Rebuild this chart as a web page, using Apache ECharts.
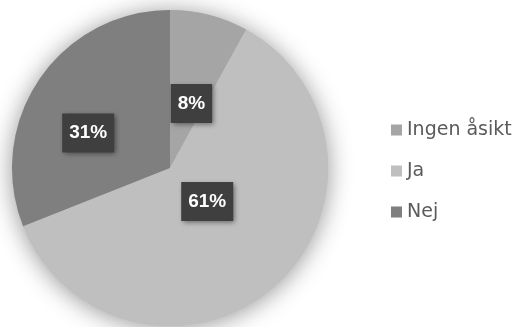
<!DOCTYPE html>
<html>
<head>
<meta charset="utf-8">
<script src="https://cdn.jsdelivr.net/npm/echarts@6/dist/echarts.min.js"></script>
<style>
  html, body { margin: 0; padding: 0; background: #ffffff; }
  #chart { width: 516px; height: 327px; }
</style>
</head>
<body>
<div id="chart"></div>
<script>
// Survey answers, share of respondents
const categories = ['Ingen åsikt', 'Ja', 'Nej'];
const values = [8, 61, 31];
const sliceColors = ['#a5a5a5', '#bfbfbf', '#7f7f7f'];
// nudges of each percentage box away from the default inside spot
const labelOffsets = [[1, 15], [-17, -28], [-14, 11]];

const chart = echarts.init(document.getElementById('chart'), null, { renderer: 'canvas' });

const pieCenter = [170, 168];
const pieRadius = 158;

const data = categories.map((name, i) => ({
  name: name,
  value: values[i],
  itemStyle: { color: sliceColors[i] },
  label: { offset: labelOffsets[i] }
}));

chart.setOption({
  backgroundColor: '#ffffff',
  animation: false,
  legend: {
    orient: 'vertical',
    left: 386,
    top: 115,
    itemWidth: 11,
    itemHeight: 11,
    itemGap: 21,
    icon: 'rect',
    textStyle: {
      fontFamily: 'DejaVu Sans',
      fontSize: 19,
      lineHeight: 20,
      color: '#5a5a5a'
    },
    data: categories
  },
  series: [
    {
      // soft halo under the pie
      type: 'pie',
      silent: true,
      center: pieCenter,
      radius: pieRadius,
      legendHoverLink: false,
      label: { show: false },
      labelLine: { show: false },
      itemStyle: {
        color: '#bfbfbf',
        shadowBlur: 24,
        shadowColor: 'rgba(0,0,0,0.42)',
        shadowOffsetX: 0,
        shadowOffsetY: 2
      },
      data: [{ name: '', value: 1 }]
    },
    {
      type: 'pie',
      center: pieCenter,
      radius: pieRadius,
      startAngle: 90,
      clockwise: true,
      avoidLabelOverlap: false,
      itemStyle: { borderWidth: 0 },
      labelLine: { show: false },
      label: {
        show: true,
        position: 'inside',
        formatter: (p) => p.value + '%',
        fontFamily: 'Liberation Sans, Arial, sans-serif',
        fontWeight: 'bold',
        fontSize: 19,
        lineHeight: 20,
        color: '#ffffff',
        backgroundColor: '#3f3f3f',
        padding: [10, 7, 9, 7],
        shadowColor: 'rgba(0,0,0,0.45)',
        shadowBlur: 5,
        shadowOffsetX: 2,
        shadowOffsetY: 2
      },
      data: data
    }
  ]
});
</script>
</body>
</html>
